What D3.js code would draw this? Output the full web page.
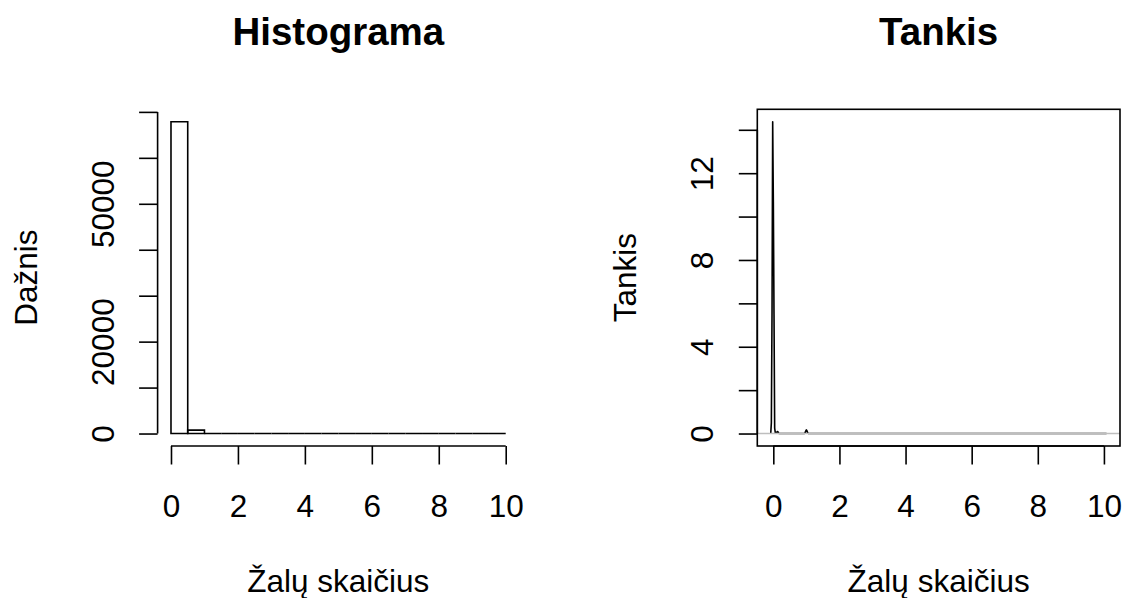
<!DOCTYPE html>
<html>
<head>
<meta charset="utf-8">
<script src="https://cdn.jsdelivr.net/npm/d3@7"></script>
<style>
  body { margin: 0; background: #fff; }
  svg { display: block; }
  text { font-family: "Liberation Sans", Arial, Helvetica, sans-serif; fill: #000; }
</style>
</head>
<body>
<svg id="chart" width="1126" height="598"></svg>
<script>
// Histogram: bin edges (width 0.5) and counts per bin
const binEdges = [0, 0.5, 1, 1.5, 2, 2.5, 3, 3.5, 4, 4.5, 5, 5.5, 6, 6.5, 7, 7.5, 8, 8.5, 9, 9.5, 10];
const binCounts = [67850, 740, 0, 0, 0, 0, 0, 0, 0, 0, 0, 0, 0, 0, 0, 0, 0, 0, 0, 0];

// Histogram axes
const histXTicks = [0, 2, 4, 6, 8, 10];
const histYTicks = [0, 10000, 20000, 30000, 40000, 50000, 60000, 70000];
const histYLabels = ["0", "", "20000", "", "", "50000", "", ""];

// Kernel density estimate (x, density)
const densX = [-0.078, -0.059, -0.039, -0.019, 0.001, 0.021, 0.041, 0.061, 0.081, 0.101, 0.121, 0.141, 0.161, 0.181,
               0.94, 0.96, 0.98, 1.0, 1.02, 1.04, 1.06, 10.08];
const densY = [0, 0.5, 5.55, 14.37, 10.67, 5.5, 0.25, 0.03, 0.02, 0.05, 0.09, 0.08, 0.02, 0,
               0, 0.03, 0.11, 0.17, 0.12, 0.03, 0, 0];

// Density axes
const densXTicks = [0, 2, 4, 6, 8, 10];
const densYTicks = [0, 2, 4, 6, 8, 10, 12, 14];
const densYLabels = ["0", "", "4", "", "8", "", "12", ""];

const titles = ["Histograma", "Tankis"];
const xTitle = "Žalų skaičius";
const yTitles = ["Dažnis", "Tankis"];

const svg = d3.select("#chart");
const LW = 1.6, TICK = 18.5;
const panels = [
  { x0: 157.6, x1: 519.1, y0: 109.3, y1: 446 },
  { x0: 757.3, x1: 1120, y0: 109.3, y1: 446 }
];

// extend a [lo, hi] range by 4% on each side
const pad = ([lo, hi]) => [lo - 0.04 * (hi - lo), hi + 0.04 * (hi - lo)];

function frameText(g, p, i) {
  const cx = (p.x0 + p.x1) / 2, cy = (p.y0 + p.y1) / 2;
  g.append("text").attr("x", cx).attr("y", 45).attr("text-anchor", "middle")
    .style("font-size", "38.5px").style("font-weight", "bold").text(titles[i]);
  g.append("text").attr("x", cx).attr("y", 592).attr("text-anchor", "middle")
    .style("font-size", "31.5px").text(xTitle);
  g.append("text").attr("text-anchor", "middle")
    .attr("transform", `translate(${p.x0 - 121},${cy}) rotate(-90)`)
    .style("font-size", "31.5px").text(yTitles[i]);
}

function drawAxes(g, p, x, y, xt, yt, yl) {
  // bottom axis
  const gx = g.append("g").attr("transform", `translate(0,${p.y1})`)
    .call(d3.axisBottom(x).tickValues(xt).tickSize(TICK).tickSizeOuter(0).tickFormat(d3.format("d")));
  gx.select(".domain").remove();
  gx.selectAll("line").attr("stroke", "#000").attr("stroke-width", LW);
  gx.selectAll("text").attr("y", null).attr("dy", null)
    .attr("transform", `translate(0,${517 - p.y1})`)
    .style("font-size", "31.5px").attr("fill", "#000");
  gx.append("line").attr("x1", x(xt[0])).attr("x2", x(xt[xt.length - 1]))
    .attr("stroke", "#000").attr("stroke-width", LW);

  // left axis
  const gy = g.append("g").attr("transform", `translate(${p.x0},0)`)
    .call(d3.axisLeft(y).tickValues(yt).tickSize(TICK).tickSizeOuter(0).tickFormat((d, i) => yl[i]));
  gy.select(".domain").remove();
  gy.selectAll("line").attr("stroke", "#000").attr("stroke-width", LW);
  gy.selectAll("text").attr("x", null).attr("dy", null).attr("text-anchor", "middle")
    .attr("transform", "translate(-44,0) rotate(-90)")
    .style("font-size", "31.5px").attr("fill", "#000");
  gy.append("line").attr("y1", y(yt[0])).attr("y2", y(yt[yt.length - 1]))
    .attr("stroke", "#000").attr("stroke-width", LW);
}

// ---- Histogram panel ----
{
  const p = panels[0];
  const g = svg.append("g");
  const x = d3.scaleLinear().domain(pad([binEdges[0], binEdges[binEdges.length - 1]])).range([p.x0, p.x1]);
  const y = d3.scaleLinear().domain(pad([0, d3.max(binCounts)])).range([p.y1, p.y0]);
  const bins = binCounts.map((c, i) => ({ a: binEdges[i], b: binEdges[i + 1], c }));
  g.selectAll("path.bar").data(bins).join("path").attr("class", "bar")
    .attr("d", d => `M${x(d.a)},${y(0)}V${y(d.c)}H${x(d.b)}V${y(0)}Z`)
    .attr("fill", "none").attr("stroke", "#000").attr("stroke-width", LW);
  drawAxes(g, p, x, y, histXTicks, histYTicks, histYLabels);
  frameText(g, p, 0);
}

// ---- Density panel ----
{
  const p = panels[1];
  const g = svg.append("g");
  const x = d3.scaleLinear().domain(pad(d3.extent(densX))).range([p.x0, p.x1]);
  const y = d3.scaleLinear().domain(pad([0, d3.max(densY)])).range([p.y1, p.y0]);
  const pts = densX.map((v, i) => [v, densY[i]]);
  g.append("path").datum(pts)
    .attr("d", d3.line().x(d => x(d[0])).y(d => y(d[1])))
    .attr("fill", "none").attr("stroke", "#000").attr("stroke-width", LW)
    .attr("stroke-linejoin", "round");
  // zero reference line
  g.append("line").attr("x1", p.x0).attr("x2", p.x1).attr("y1", y(0)).attr("y2", y(0))
    .attr("stroke", "#bebebe").attr("stroke-width", LW);
  // plot box
  g.append("rect").attr("x", p.x0).attr("y", p.y0)
    .attr("width", p.x1 - p.x0).attr("height", p.y1 - p.y0)
    .attr("fill", "none").attr("stroke", "#000").attr("stroke-width", LW);
  drawAxes(g, p, x, y, densXTicks, densYTicks, densYLabels);
  frameText(g, p, 1);
}
</script>
</body>
</html>
